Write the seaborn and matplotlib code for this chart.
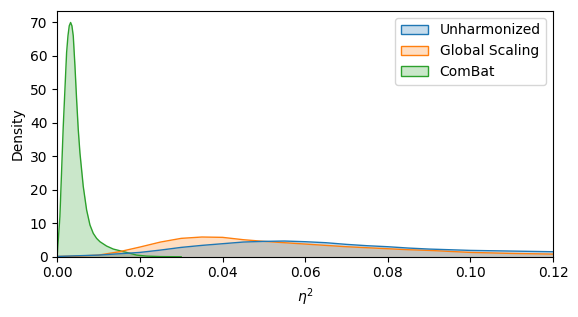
import numpy as np
import pandas as pd
import matplotlib
matplotlib.use("Agg")
import matplotlib.pyplot as plt
import seaborn as sns
from matplotlib.colors import to_rgba
from matplotlib.patches import Patch

# Density curves (eta^2 vs density)
methods = ['Unharmonized', 'Global Scaling', 'ComBat']

unharm_x = [0.0, 0.005, 0.01, 0.015, 0.02, 0.025, 0.03, 0.035, 0.04, 0.045, 0.05,
            0.055, 0.06, 0.065, 0.07, 0.075, 0.08, 0.085, 0.09, 0.095, 0.1, 0.11, 0.12, 0.125]
unharm_y = [0.1, 0.3, 0.5, 0.9, 1.3, 2.0, 2.8, 3.4, 3.9, 4.4, 4.6,
            4.7, 4.5, 4.2, 3.7, 3.3, 3.0, 2.6, 2.3, 2.1, 1.9, 1.7, 1.5, 1.4]

gscale_x = [0.0, 0.005, 0.01, 0.015, 0.02, 0.025, 0.03, 0.035, 0.04, 0.045, 0.05,
            0.055, 0.06, 0.065, 0.07, 0.075, 0.08, 0.085, 0.09, 0.095, 0.1, 0.11, 0.12, 0.125]
gscale_y = [0.1, 0.2, 0.5, 1.5, 2.9, 4.4, 5.5, 5.9, 5.8, 5.1, 4.6,
            4.2, 3.8, 3.4, 3.0, 2.7, 2.4, 2.1, 1.9, 1.6, 1.3, 1.0, 0.8, 0.7]

combat_x = [0.0, 0.00065, 0.00146, 0.00227, 0.0026, 0.00291, 0.00324, 0.00356, 0.00388,
            0.00429, 0.00469, 0.00509, 0.0055, 0.0059, 0.0063, 0.00711, 0.00792, 0.00872,
            0.00953, 0.01034, 0.01195, 0.01357, 0.01518, 0.01679, 0.01921, 0.02164, 0.025, 0.03]
combat_y = [0.5, 12, 39, 61, 66, 69, 70, 69, 66,
            57, 47, 38, 31, 26, 21, 14, 9.5, 7,
            5.5, 4.5, 3.2, 2.3, 1.8, 1.3, 0.5, 0.2, 0.05, 0.0]

curves = {
    'Unharmonized': (unharm_x, unharm_y),
    'Global Scaling': (gscale_x, gscale_y),
    'ComBat': (combat_x, combat_y),
}

df = pd.concat([
    pd.DataFrame({'eta2': x, 'density': y, 'method': m})
    for m, (x, y) in curves.items()
], ignore_index=True)

colors = dict(zip(methods, sns.color_palette('tab10', 3)))

fig = plt.figure(figsize=(5.78, 3.17), dpi=100)
ax = fig.add_axes([0.099, 0.19, 0.858, 0.776])

# seaborn draws the last hue level first
for m in reversed(methods):
    sub = df[df['method'] == m]
    ax.fill_between(sub['eta2'], sub['density'], color=to_rgba(colors[m], 0.25), lw=0)
    sns.lineplot(data=sub, x='eta2', y='density', color=colors[m], lw=1, ax=ax)

handles = [Patch(facecolor=to_rgba(colors[m], 0.25), edgecolor=colors[m], label=m) for m in methods]
ax.legend(handles=handles, loc='upper right')

ax.set_xlim(0, 0.12)
ax.set_ylim(0, 73.5)
ax.set_xlabel(r'$\eta^2$')
ax.set_ylabel('Density')

fig.savefig('out.png', dpi=100)
